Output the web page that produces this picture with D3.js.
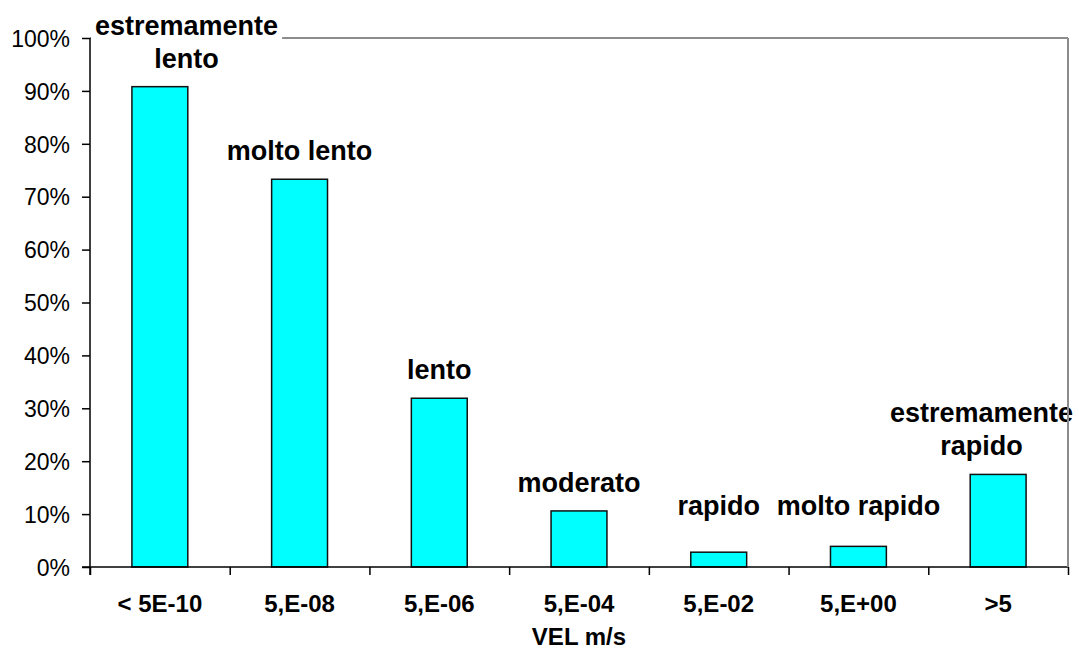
<!DOCTYPE html>
<html>
<head>
<meta charset="utf-8">
<script src="https://cdnjs.cloudflare.com/ajax/libs/d3/7.8.5/d3.min.js"></script>
<style>
	body { margin: 0; background: #ffffff; }
	svg { display: block; font-family: "Liberation Sans", Arial, sans-serif; }
</style>
</head>
<body>
<div id="chart"></div>
<script>
// data
const categories = ['< 5E-10', '5,E-08', '5,E-06', '5,E-04', '5,E-02', '5,E+00', '>5'];
const shares = [0.908, 0.733, 0.319, 0.106, 0.028, 0.039, 0.175];
const classNames = [
	['estremamente', 'lento'],
	['molto lento'],
	['lento'],
	['moderato'],
	['rapido'],
	['molto rapido'],
	['estremamente', 'rapido']
];
const yTicks = [0, 0.1, 0.2, 0.3, 0.4, 0.5, 0.6, 0.7, 0.8, 0.9, 1.0];
const xTitle = 'VEL m/s';

const width = 1079, height = 651;
const m = { top: 38, right: 11, bottom: 84, left: 90 };
const w = width - m.left - m.right;
const h = height - m.top - m.bottom;

const svg = d3.select('#chart').append('svg')
	.attr('width', width)
	.attr('height', height);

const plot = svg.append('g')
	.attr('transform', 'translate(' + m.left + ',' + m.top + ')');

const x = d3.scaleBand()
	.domain(categories)
	.range([0, w])
	.paddingInner(0.6)
	.paddingOuter(0.3);

// boundaries between categories for the tick marks
const xEdge = d3.scaleLinear()
	.domain([0, categories.length])
	.range([0, w]);

const y = d3.scaleLinear()
	.domain([0, 1])
	.range([h, 0]);

//plot area border: top behind labels
plot.append('line')
	.attr('x1', 0).attr('x2', w)
	.attr('y1', 0).attr('y2', 0)
	.style('stroke', '#8c8c8c')
	.style('stroke-width', 2);

//bars
plot.selectAll('.bar')
	.data(shares)
	.enter().append('rect')
	.attr('class', 'bar')
	.attr('x', (d, i) => x(categories[i]))
	.attr('y', d => y(d))
	.attr('width', x.bandwidth())
	.attr('height', d => h - y(d))
	.style('fill', '#00ffff')
	.style('stroke', '#111')
	.style('stroke-width', 1.5);

//y axis
const yAxis = plot.append('g')
	.attr('class', 'y axis')
	.call(d3.axisLeft(y)
		.tickValues(yTicks)
		.tickFormat(d3.format('.0%'))
		.tickSize(8)
		.tickSizeOuter(0)
		.tickPadding(12));
yAxis.select('.domain').remove();
yAxis.selectAll('line').style('stroke', '#000').style('stroke-width', 1.5);
yAxis.selectAll('text')
	.style('font-size', '23px')
	.style('fill', '#000')
	.attr('dy', '0.36em');

//x axis ticks at the category edges
const xTickAxis = plot.append('g')
	.attr('transform', 'translate(0,' + h + ')')
	.call(d3.axisBottom(xEdge)
		.tickValues(d3.range(categories.length + 1))
		.tickFormat('')
		.tickSize(8)
		.tickSizeOuter(0));
xTickAxis.select('.domain').remove();
xTickAxis.selectAll('line').style('stroke', '#000').style('stroke-width', 1.5);

//x category labels
const xAxis = plot.append('g')
	.attr('transform', 'translate(0,' + h + ')')
	.call(d3.axisBottom(x).tickSize(0).tickPadding(28));
xAxis.select('.domain').remove();
xAxis.selectAll('text')
	.style('font-size', '24px')
	.style('font-weight', 'bold')
	.style('fill', '#000');

//axis lines
plot.append('line')
	.attr('x1', -8).attr('x2', w)
	.attr('y1', h).attr('y2', h)
	.style('stroke', '#000').style('stroke-width', 1.5);
plot.append('line')
	.attr('x1', 0).attr('x2', 0)
	.attr('y1', 0).attr('y2', h + 8)
	.style('stroke', '#000').style('stroke-width', 1.5);

//axis title
plot.append('text')
	.attr('x', w / 2)
	.attr('y', h + 78)
	.style('text-anchor', 'middle')
	.style('font-size', '24px')
	.style('font-weight', 'bold')
	.text(xTitle);

//class labels above the bars, kept inside the chart
const lineGap = 33;
const labels = plot.selectAll('.class-label')
	.data(classNames)
	.enter().append('g')
	.attr('class', 'class-label');

labels.each(function(lines, i) {
	const g = d3.select(this);
	const lastBase = Math.min(y(shares[i]) - 19, y(0) - 52);
	const box = g.append('rect').style('fill', '#fff');
	const txt = g.append('text')
		.style('text-anchor', 'middle')
		.style('font-size', '27px')
		.style('font-weight', 'bold')
		.style('fill', '#000');
	lines.forEach(function(line, j) {
		txt.append('tspan')
			.attr('x', 0)
			.attr('y', lastBase - (lines.length - 1 - j) * lineGap)
			.text(line);
	});
	const half = d3.max(txt.selectAll('tspan').nodes(), n => n.getComputedTextLength()) / 2;
	let cx = x(categories[i]) + x.bandwidth() / 2;
	cx = Math.max(cx, 5 + half);
	cx = Math.min(cx, width - 6 - m.left - half);
	g.attr('transform', 'translate(' + cx + ',0)');
	const bb = txt.node().getBBox();
	box.attr('x', bb.x - 4)
		.attr('y', bb.y - 2)
		.attr('width', bb.width + 8)
		.attr('height', bb.height + 8);
});

//plot area border: right side drawn over the labels
plot.append('line')
	.attr('x1', w).attr('x2', w)
	.attr('y1', 0).attr('y2', h)
	.style('stroke', '#8c8c8c')
	.style('stroke-width', 2);
</script>
</body>
</html>
